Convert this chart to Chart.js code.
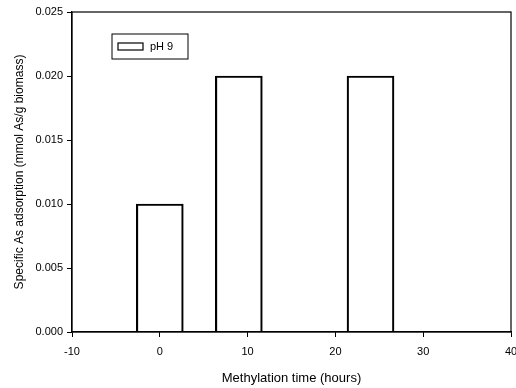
<!DOCTYPE html>
<html>
<head>
<meta charset="utf-8">
<script src="https://cdn.jsdelivr.net/npm/chart.js@4/dist/chart.umd.min.js"></script>
<style>
  html, body { margin: 0; padding: 0; background: #fff; }
  #wrap { width: 516px; height: 388px; }
</style>
</head>
<body>
<div id="wrap"><canvas id="chart" width="516" height="388"></canvas></div>
<script>
// values
const hours = [0, 9, 24];
const adsorption = [0.010, 0.020, 0.020];
const seriesLabel = 'pH 9';
const xTicks = [-10, 0, 10, 20, 30, 40];
const yTicks = [0.000, 0.005, 0.010, 0.015, 0.020, 0.025];

const FONT = "'Liberation Sans', Arial, sans-serif";

// box around the plot + legend drawn inside the plot
const framePlugin = {
    id: 'frame',
    afterDraw(chart) {
        const { ctx, chartArea: a } = chart;
        ctx.save();
        ctx.strokeStyle = '#000';
        ctx.lineWidth = 1.2;
        ctx.strokeRect(a.left, a.top, a.right - a.left, a.bottom - a.top);

        // legend box
        const lx = a.left + 40, ly = a.top + 22;
        ctx.lineWidth = 1;
        ctx.strokeRect(lx, ly, 76, 25);
        ctx.lineWidth = 1.2;
        ctx.strokeRect(lx + 6, ly + 9, 25, 7);
        ctx.fillStyle = '#000';
        ctx.font = '11px ' + FONT;
        ctx.textBaseline = 'middle';
        ctx.fillText(chart.data.datasets[0].label, lx + 38, ly + 13);
        ctx.restore();
    }
};

new Chart(document.getElementById('chart'), {
    type: 'bar',
    data: {
        datasets: [{
            label: seriesLabel,
            data: hours.map((h, i) => ({ x: h, y: adsorption[i] })),
            backgroundColor: 'rgba(255,255,255,0)',
            borderColor: '#000',
            borderWidth: 1.5,
            barThickness: 47
        }]
    },
    options: {
        responsive: false,
        animation: false,
        layout: { padding: { left: 0, right: 5, top: 12, bottom: 0 } },
        plugins: { legend: { display: false }, tooltip: { enabled: false } },
        scales: {
            x: {
                type: 'linear',
                min: -10,
                max: 40,
                offset: false,
                afterBuildTicks: s => { s.ticks = xTicks.map(v => ({ value: v })); },
                afterFit: s => { s.height = 56; s.paddingRight = 0; s.paddingLeft = 0; },
                grid: { display: true, offset: false, drawOnChartArea: false, tickLength: 5, tickColor: '#000', lineWidth: 1 },
                border: { display: true, color: '#000', width: 1.2 },
                ticks: { color: '#000', font: { family: FONT, size: 11 }, padding: 8, maxRotation: 0 },
                title: { display: true, text: 'Methylation time (hours)', color: '#000', font: { family: FONT, size: 13 }, padding: { top: 4, bottom: 2 } }
            },
            y: {
                min: 0,
                max: 0.025,
                afterBuildTicks: s => { s.ticks = yTicks.map(v => ({ value: v })); },
                afterFit: s => { s.width = 72; },
                grid: { display: true, drawOnChartArea: false, tickLength: 5, tickColor: '#000', lineWidth: 1 },
                border: { display: true, color: '#000', width: 1.2 },
                ticks: { color: '#000', font: { family: FONT, size: 11 }, padding: 4, callback: v => v.toFixed(3) },
                title: { display: true, text: 'Specific As adsorption (mmol As/g biomass)', color: '#000', font: { family: FONT, size: 12 }, padding: { top: 12, bottom: 0 } }
            }
        }
    },
    plugins: [framePlugin]
});
</script>
</body>
</html>
